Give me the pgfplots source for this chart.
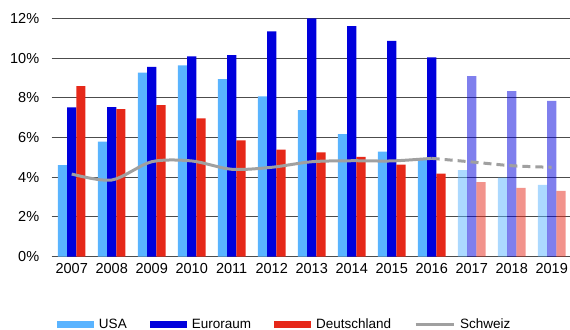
\documentclass[border=0pt]{standalone}
\usepackage{fontspec}
\setmainfont{Liberation Sans}
\usepackage{pgfplots}
\pgfplotsset{compat=1.18}
\definecolor{usa}{RGB}{90,180,255}
\definecolor{euro}{RGB}{0,0,220}
\definecolor{de}{RGB}{230,40,25}
\definecolor{ch}{RGB}{160,160,160}
\begin{document}
\begin{tikzpicture}
\path[use as bounding box] (-51.7bp,-73.3bp) rectangle (518.3bp,256.7bp);
\begin{axis}[
  scale only axis, width=520bp, height=238.4bp,
  anchor=south west, at={(0,0)},
  xmin=-0.5, xmax=12.5, ymin=0, ymax=12,
  ytick={0,2,...,12},
  yticklabel={\pgfmathprintnumber{\tick}\%},
  xtick={0,...,12},
  xticklabels={2007,2008,2009,2010,2011,2012,2013,2014,2015,2016,2017,2018,2019},
  /pgf/number format/assume math mode=true,
  ymajorgrids,
  major grid style={black!70, line width=1bp},
  axis line style={draw=none},
  tick style={draw=none},
  tick label style={font=\fontsize{14.5bp}{17bp}\selectfont},
  yticklabel style={xshift=-9bp},
  xticklabel style={yshift=-3.5bp},
  bar width=9.2bp,
  clip=false,
  legend style={draw=none, fill=none, inner sep=0pt, outer sep=0pt,
    at={(0.0102,-0.283)}, anchor=west,
    font=\fontsize{13.5bp}{16bp}\selectfont,
    nodes={inner sep=0pt},
    /tikz/every odd column/.append style={column sep=5bp},
    /tikz/every even column/.append style={column sep=23bp}},
  legend columns=4,
]
% USA
\addplot[ybar, fill=usa, draw=none, bar shift=-9.2bp,
  legend image code/.code={\fill[usa] (0bp,-3.5bp) rectangle (37bp,3.5bp);}]
  coordinates {(0,4.61) (1,5.79) (2,9.26) (3,9.63) (4,8.94) (5,8.07) (6,7.38) (7,6.17) (8,5.29) (9,4.90)};
\addlegendentry{USA}
% Euroraum
\addplot[ybar, fill=euro, draw=none, bar shift=0bp,
  legend image code/.code={\fill[euro] (0bp,-3.5bp) rectangle (37bp,3.5bp);}]
  coordinates {(0,7.52) (1,7.53) (2,9.56) (3,10.08) (4,10.15) (5,11.34) (6,12.0) (7,11.61) (8,10.86) (9,10.03)};
\addlegendentry{Euroraum}
% Deutschland
\addplot[ybar, fill=de, draw=none, bar shift=9.2bp,
  legend image code/.code={\fill[de] (0bp,-3.5bp) rectangle (37bp,3.5bp);}]
  coordinates {(0,8.59) (1,7.43) (2,7.63) (3,6.96) (4,5.86) (5,5.39) (6,5.25) (7,5.02) (8,4.63) (9,4.18)};
\addlegendentry{Deutschland}
% Schweiz
\addplot[smooth, ch, line width=3bp, mark=none,
  legend image code/.code={\draw[ch, line width=3bp] (0bp,0bp) -- (38bp,0bp);}]
  coordinates {(0,4.16) (1,3.86) (2,4.78) (3,4.82) (4,4.40) (5,4.50) (6,4.78) (7,4.83) (8,4.82) (9,4.95)};
\addlegendentry{Schweiz}
% forecasts
\addplot[ybar, forget plot, fill=usa, fill opacity=0.5, draw=none, bar shift=-9.2bp]
  coordinates {(10,4.36) (11,3.98) (12,3.61)};
\addplot[ybar, forget plot, fill=euro, fill opacity=0.5, draw=none, bar shift=0bp]
  coordinates {(10,9.09) (11,8.34) (12,7.84)};
\addplot[ybar, forget plot, fill=de, fill opacity=0.5, draw=none, bar shift=9.2bp]
  coordinates {(10,3.76) (11,3.46) (12,3.31)};
\addplot[forget plot, smooth, ch, line width=3bp, mark=none, dash pattern=on 8bp off 5bp]
  coordinates {(9,4.95) (10,4.77) (11,4.58) (12,4.50)};
\end{axis}
\end{tikzpicture}
\end{document}
